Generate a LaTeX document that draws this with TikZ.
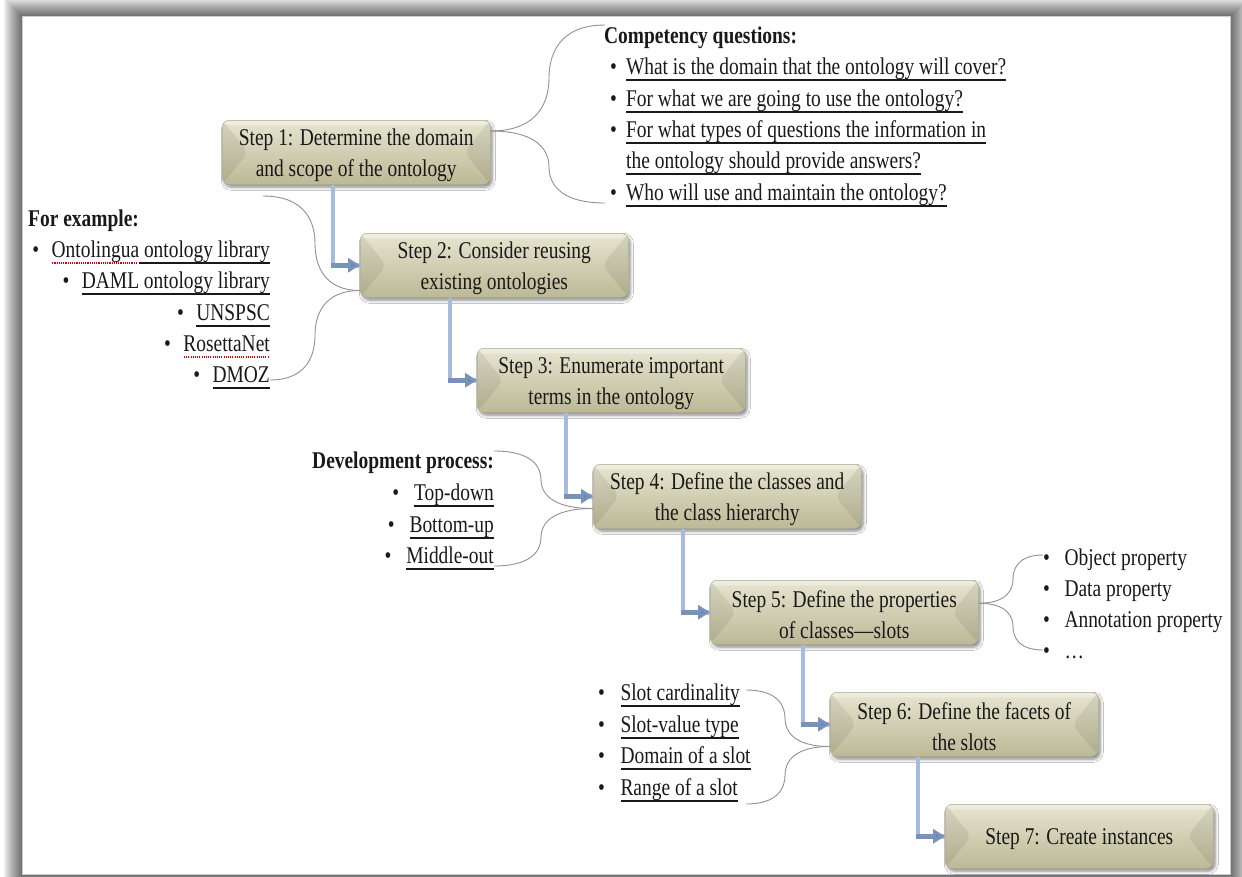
\documentclass[tikz,border=0pt]{standalone}
\usepackage{fontspec}
\setmainfont[FakeStretch=0.81]{Liberation Serif}
\usetikzlibrary{arrows.meta,calc,shadows.blur}

% underline helpers: solid black, and red dotted (spell-check mark)
\newsavebox\ulbox
\newcommand\ulin[1]{\sbox\ulbox{#1}\rlap{\rule[-6.5pt]{\wd\ulbox}{1.1pt}}\usebox\ulbox}
\newcommand\redul[1]{\sbox\ulbox{#1}\rlap{\color{red!85!black}\raisebox{-6.5pt}{\leaders\hbox to 2.2pt{\hss\rule{1.1pt}{1.1pt}\hss}\hskip\wd\ulbox}}\usebox\ulbox}
\newcommand\txt{\fontsize{24}{31}\selectfont}
\newcommand\topstrut{\rule{0pt}{22pt}}

% bracket-shaped curve from a junction to a list end, turning at the x of #2
\newcommand\bracepath[3]{%
  \draw[brace] (#1) .. controls ($(#1)!0.85!(#1 -| #2)$) and ($(#1 -| #2)!0.3!(#3 -| #2)$) ..
    ($(#1 -| #2)!0.5!(#3 -| #2)$) .. controls ($(#3 -| #2)!0.3!(#1 -| #2)$) and ($(#3)!0.85!(#3 -| #2)$) .. (#3);}

\definecolor{boxtop}{RGB}{230,229,208}
\definecolor{boxmid}{RGB}{210,208,178}
\definecolor{boxbot}{RGB}{188,185,150}
\definecolor{boxedge}{RGB}{178,175,140}
\definecolor{connlight}{RGB}{166,188,220}
\definecolor{conndark}{RGB}{120,146,186}
\definecolor{tipblue}{RGB}{104,132,172}
\definecolor{bracegray}{RGB}{145,145,145}

\begin{document}
\begin{tikzpicture}[x=1pt,y=-1pt,
  stepbox/.style={rectangle, rounded corners=7pt, minimum width=268pt,
    minimum height=64pt, inner sep=0pt, align=center,
    font=\txt, text=black!90, top color=boxtop, middle color=boxmid,
    bottom color=boxbot, draw=boxedge, line width=0.5pt,
    blur shadow={shadow xshift=2pt, shadow yshift=-3pt,
      shadow blur radius=3pt, shadow opacity=45},
    path picture={
      \fill[black,opacity=.07] (path picture bounding box.north west)
        -- ($(path picture bounding box.west)+(26,0)$)
        -- (path picture bounding box.south west) -- cycle;
      \fill[black,opacity=.07] (path picture bounding box.north east)
        -- ($(path picture bounding box.east)+(-26,0)$)
        -- (path picture bounding box.south east) -- cycle;
      \fill[white,opacity=.35] (path picture bounding box.north west)
        rectangle ($(path picture bounding box.north east)+(0,5)$);
    }},
  connv/.style={line width=4.5pt, draw=connlight},
  connh/.style={line width=4.5pt, draw=conndark,
    -{Triangle[length=12pt,width=14pt,fill=tipblue]}},
  brace/.style={draw=bracegray, line width=0.9pt},
  item/.style={font=\txt, inner sep=0pt, text=black!90}]

\useasboundingbox (0,0) rectangle (1242,876);
\clip (0,0) rectangle (1242,876);
\fill[white] (0,0) rectangle (1242,876);

% page frame with soft shadow
\foreach \i in {1,...,18}{
  \pgfmathsetmacro\op{0.55*(1-(\i-1)/18)^0.8}
  \draw[black, opacity=\op, line width=1.05pt]
    ({22.5-\i},{16.5-\i}) rectangle ({1230.5+\i},{874.5+\i});
}
\draw[black!20, line width=1pt] (22.5,16.5) rectangle (1230.5,874.5);

% steps
\node[stepbox, anchor=north west] (s1) at (222,120) {\topstrut Step 1: Determine the domain\\and scope of the ontology};
\node[stepbox, anchor=north west] (s2) at (360,233) {\topstrut Step 2: Consider reusing\\existing ontologies};
\node[stepbox, anchor=north west] (s3) at (477,348) {\topstrut Step 3: Enumerate important\\terms in the ontology};
\node[stepbox, anchor=north west] (s4) at (593,464) {\topstrut Step 4: Define the classes and\\the class hierarchy};
\node[stepbox, anchor=north west] (s5) at (710,580) {\topstrut Step 5: Define the properties\\of classes—slots};
\node[stepbox, anchor=north west] (s6) at (830,692) {\topstrut Step 6: Define the facets of\\the slots};
\node[stepbox, anchor=north west] (s7) at (945,804) {\topstrut Step 7: Create instances};

% elbow connectors between steps: light vertical leg, darker arrowed leg
\foreach \a/\b in {s1/s2,s2/s3,s3/s4,s4/s5,s5/s6,s6/s7}{
  \coordinate (c-\b) at ($(\b.west)+(-27,0)$);
  \draw[connv] (\a.south -| c-\b) |- (\b.west);
  \draw[connh] ($(c-\b)+(-2.25,0)$) -- (\b.west);
}

% competency questions
\node[item, anchor=base west] (cqh) at (604,43) {\bfseries Competency questions:};
\node[item, anchor=base west] (cq1) at (610,74) {\textbullet\hspace{9pt}\ulin{What is the domain that the ontology will cover?}};
\node[item, anchor=base west] (cq2) at (610,106) {\textbullet\hspace{9pt}\ulin{For what we are going to use the ontology?}};
\node[item, anchor=base west] (cq3) at (610,137) {\textbullet\hspace{9pt}\ulin{For what types of questions the information in}};
\node[item, anchor=base west] (cq3b) at (626,168) {\ulin{the ontology should provide answers?}};
\node[item, anchor=base west] (cq4) at (610,200) {\textbullet\hspace{9pt}\ulin{Who will use and maintain the ontology?}};

% existing ontologies
\node[item, anchor=base west] (exh) at (28,226) {\bfseries For example:};
\node[item, anchor=base east] (ex1) at (270,257) {\textbullet\hspace{12.5pt}\redul{Ontolingua}\ulin{ ontology library}};
\node[item, anchor=base east] (ex2) at (270,288) {\textbullet\hspace{12.5pt}\ulin{DAML ontology library}};
\node[item, anchor=base east] (ex3) at (270,320) {\textbullet\hspace{12.5pt}\ulin{UNSPSC}};
\node[item, anchor=base east] (ex4) at (270,351) {\textbullet\hspace{12.5pt}\redul{RosettaNet}};
\node[item, anchor=base east] (ex5) at (270,382) {\textbullet\hspace{12.5pt}\ulin{DMOZ}};

% development process
\node[item, anchor=base east] (dph) at (494,468) {\bfseries Development process:};
\node[item, anchor=base east] (dp1) at (494,500) {\textbullet\hspace{15pt}\ulin{Top-down}};
\node[item, anchor=base east] (dp2) at (494,532) {\textbullet\hspace{15pt}\ulin{Bottom-up}};
\node[item, anchor=base east] (dp3) at (494,563) {\textbullet\hspace{15pt}\ulin{Middle-out}};

% property kinds
\node[item, anchor=base west] (pk1) at (1043,565) {\textbullet\hspace{14.5pt}Object property};
\node[item, anchor=base west] (pk2) at (1043,596) {\textbullet\hspace{14.5pt}Data property};
\node[item, anchor=base west] (pk3) at (1043,627) {\textbullet\hspace{14.5pt}Annotation property};
\node[item, anchor=base west] (pk4) at (1043,658) {\textbullet\hspace{14.5pt}…};

% facets
\node[item, anchor=base west] (fc1) at (598,700) {\textbullet\hspace{15.5pt}\ulin{Slot cardinality}};
\node[item, anchor=base west] (fc2) at (598,732) {\textbullet\hspace{15.5pt}\ulin{Slot-value type}};
\node[item, anchor=base west] (fc3) at (598,763) {\textbullet\hspace{15.5pt}\ulin{Domain of a slot}};
\node[item, anchor=base west] (fc4) at (598,795) {\textbullet\hspace{15.5pt}\ulin{Range of a slot}};

% curves linking steps to their lists
\coordinate (j1) at ($(s1.north east)+(0,11)$);
\coordinate (v1) at (549,0);
\coordinate (cqa) at (605,25);
\coordinate (cqb) at (605,203);
\bracepath{j1}{v1}{cqa}
\bracepath{j1}{v1}{cqb}

\coordinate (j2) at ($(s2.south west)+(0,-7)$);
\coordinate (v2) at (315,0);
\coordinate (exa) at (263,196);
\coordinate (exb) at (270,380);
\bracepath{j2}{v2}{exa}
\bracepath{j2}{v2}{exb}

\coordinate (j4) at ($(s4.south west)+(0,-20)$);
\coordinate (v4) at (541,0);
\coordinate (dpa) at (494,451);
\coordinate (dpb) at (494,566);
\bracepath{j4}{v4}{dpa}
\bracepath{j4}{v4}{dpb}

\coordinate (j5) at ($(s5.east)+(0,-9)$);
\coordinate (v5) at (1013,0);
\coordinate (pka) at (1043,555);
\coordinate (pkb) at (1043,650);
\bracepath{j5}{v5}{pka}
\bracepath{j5}{v5}{pkb}

\coordinate (j6) at ($(s6.south west)+(0,-10)$);
\coordinate (v6) at (785,0);
\coordinate (fca) at (746,690);
\coordinate (fcb) at (746,804);
\bracepath{j6}{v6}{fca}
\bracepath{j6}{v6}{fcb}
\end{tikzpicture}
\end{document}
